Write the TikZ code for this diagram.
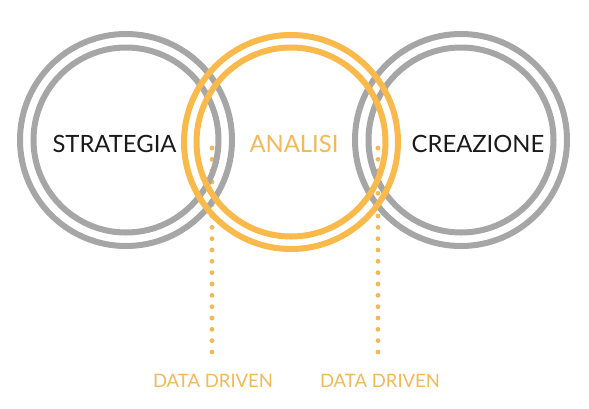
\documentclass[tikz,border=0pt]{standalone}
\usepackage{fontspec}
\setmainfont{Lato}
\usepackage{tikz}
\usetikzlibrary{positioning}

\definecolor{ringgray}{HTML}{A6A6A6}
\definecolor{ringorange}{HTML}{F9B94B}
\definecolor{textorange}{HTML}{F3B857}
\definecolor{textdark}{HTML}{1A1A1A}

\tikzset{
  ring/.style={line width=6pt},
  datadots/.style={textorange, line width=4.8pt, line cap=round, dash pattern=on 0pt off 11.333pt},
  bigword/.style={anchor=base, inner sep=0pt, font=\fontsize{23.8}{26}\selectfont},
  smallword/.style={anchor=base, inner sep=0pt, textorange, font=\fontsize{18.5}{21}\selectfont}
}

\begin{document}
\begin{tikzpicture}[x=1pt,y=-1pt]
\useasboundingbox (0,0) rectangle (589,408);

% Centres
\coordinate (cl) at (126,140);
\coordinate (cm) at (291,142);
\coordinate (cr) at (461,140);

% Data driven labels
\node[smallword] (dd1) at (213,387) {DATA DRIVEN};
\node[smallword] (dd2) at (380,387) {DATA DRIVEN};

% Dotted connectors
\coordinate (top1) at (212,148);
\coordinate (bot1) at (212,352);
\coordinate (top2) at (378,148);
\coordinate (bot2) at (378,352);
\draw[datadots] (top1) -- (bot1);
\draw[datadots] (top2) -- (bot2);

% Gray rings
\draw[ring,ringgray] (cl) circle (106) (cl) circle (92.5);
\draw[ring,ringgray] (cr) circle (106) (cr) circle (92.5);

% Orange rings
\draw[ring,ringorange] (cm) circle (107) (cm) circle (94.5);

% Words
\node[bigword,textdark] (strat) at (114.5,152) {STRATEGIA};
\node[bigword,textorange] (anal) at (294,152) {ANALISI};
\node[bigword,textdark] (crea) at (478,152) {CREAZIONE};
\end{tikzpicture}
\end{document}
